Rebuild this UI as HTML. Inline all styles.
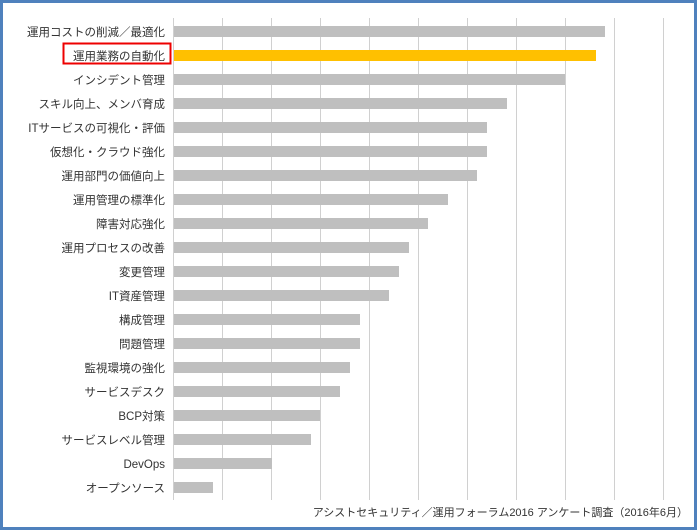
<!DOCTYPE html>
<html><head><meta charset="utf-8"><style>
body{margin:0;background:#fff;}
#c{position:absolute;left:0;top:0;width:700px;height:531px;}
</style></head><body>
<svg id="c" width="700" height="531" xmlns="http://www.w3.org/2000/svg" font-family="Liberation Sans, Noto Sans CJK JP, sans-serif">
<rect x="1.5" y="1.5" width="694" height="527" fill="#fff" stroke="#4f81bd" stroke-width="3"/>
<g stroke="#d0d0d0" stroke-width="1">
<line x1="222.5" y1="18" x2="222.5" y2="500"/><line x1="271.5" y1="18" x2="271.5" y2="500"/>
<line x1="320.5" y1="18" x2="320.5" y2="500"/><line x1="369.5" y1="18" x2="369.5" y2="500"/>
<line x1="418.5" y1="18" x2="418.5" y2="500"/><line x1="467.5" y1="18" x2="467.5" y2="500"/>
<line x1="516.5" y1="18" x2="516.5" y2="500"/><line x1="565.5" y1="18" x2="565.5" y2="500"/>
<line x1="614.5" y1="18" x2="614.5" y2="500"/><line x1="663.5" y1="18" x2="663.5" y2="500"/>
<line x1="173.5" y1="18" x2="173.5" y2="500"/>
</g>
<g fill="#bfbfbf">
<rect x="174" y="26" width="431" height="11"/>
<rect x="174" y="50" width="422" height="11" fill="#ffc000"/>
<rect x="174" y="74" width="391" height="11"/>
<rect x="174" y="98" width="333" height="11"/>
<rect x="174" y="122" width="313" height="11"/>
<rect x="174" y="146" width="313" height="11"/>
<rect x="174" y="170" width="303" height="11"/>
<rect x="174" y="194" width="274" height="11"/>
<rect x="174" y="218" width="254" height="11"/>
<rect x="174" y="242" width="235" height="11"/>
<rect x="174" y="266" width="225" height="11"/>
<rect x="174" y="290" width="215" height="11"/>
<rect x="174" y="314" width="186" height="11"/>
<rect x="174" y="338" width="186" height="11"/>
<rect x="174" y="362" width="176" height="11"/>
<rect x="174" y="386" width="166" height="11"/>
<rect x="174" y="410" width="146" height="11"/>
<rect x="174" y="434" width="137" height="11"/>
<rect x="174" y="458" width="98" height="11"/>
<rect x="174" y="482" width="39" height="11"/>
</g>
<rect x="63.5" y="43.5" width="107" height="20" fill="none" stroke="#e00" stroke-width="2"/>
<g font-size="11.5" fill="#333" text-anchor="end">
<text x="165" y="36">運用コストの削減／最適化</text>
<text x="165" y="60">運用業務の自動化</text>
<text x="165" y="84">インシデント管理</text>
<text x="165" y="108">スキル向上、メンバ育成</text>
<text x="165" y="132">ITサービスの可視化・評価</text>
<text x="165" y="156">仮想化・クラウド強化</text>
<text x="165" y="180">運用部門の価値向上</text>
<text x="165" y="204">運用管理の標準化</text>
<text x="165" y="228">障害対応強化</text>
<text x="165" y="252">運用プロセスの改善</text>
<text x="165" y="276">変更管理</text>
<text x="165" y="300">IT資産管理</text>
<text x="165" y="324">構成管理</text>
<text x="165" y="348">問題管理</text>
<text x="165" y="372">監視環境の強化</text>
<text x="165" y="396">サービスデスク</text>
<text x="165" y="420">BCP対策</text>
<text x="165" y="444">サービスレベル管理</text>
<text x="165" y="468">DevOps</text>
<text x="165" y="492">オープンソース</text>
<text x="688" y="516" font-size="11">アシストセキュリティ／運用フォーラム2016 アンケート調査（2016年6月）</text>
</g>
</svg>
</body></html>
